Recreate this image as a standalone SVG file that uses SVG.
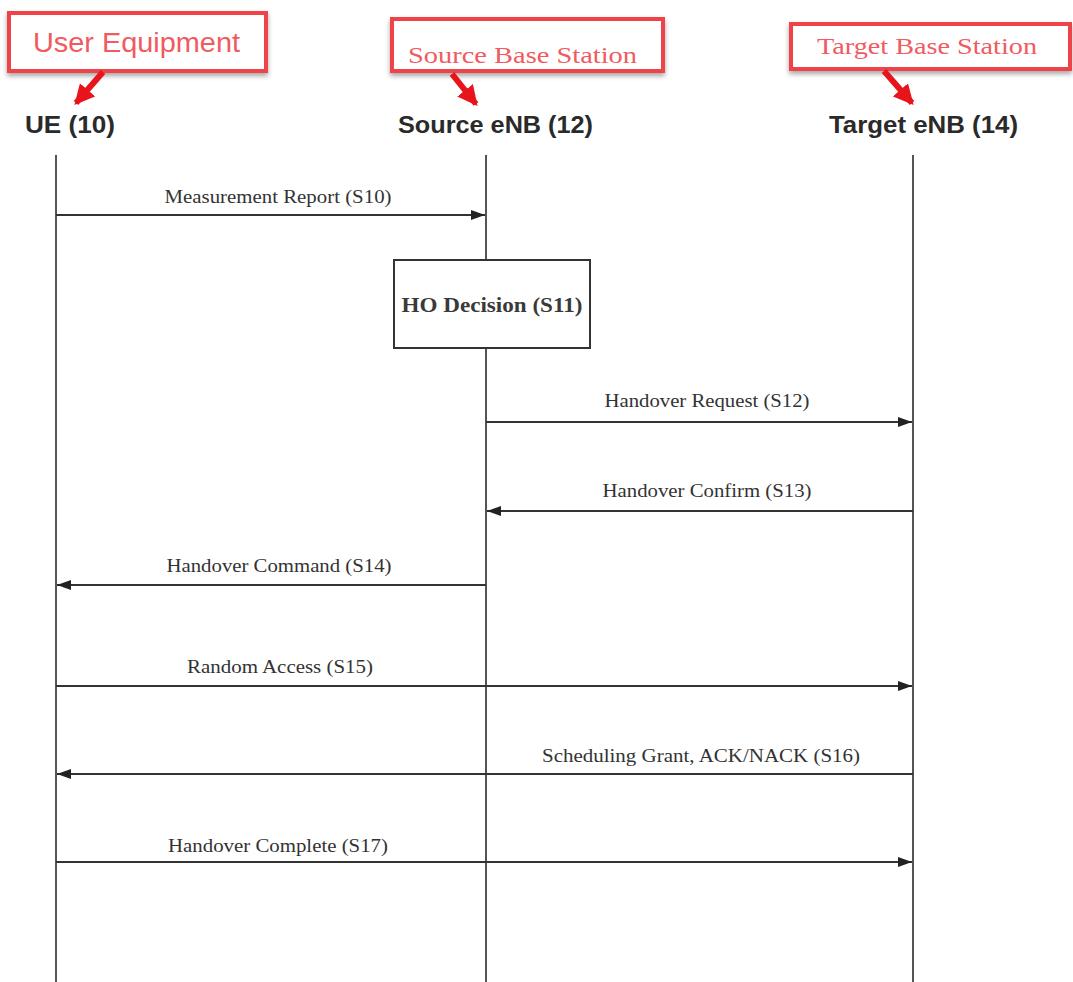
<svg xmlns="http://www.w3.org/2000/svg" width="1073" height="982" viewBox="0 0 1073 982">
<style>
.hbox{fill:#fff;stroke:#f0424a;stroke-width:4;filter:url(#sh)}
.htxt{fill:#f05a60}
.ent{font-family:"Liberation Sans",Arial,sans-serif;font-weight:bold;font-size:23px;fill:#2a2a2a}
.life{stroke:#555;stroke-width:2;fill:none}
.msg{stroke:#333;stroke-width:1.8;fill:none;marker-end:url(#ah)}
.lbl{font-family:"Liberation Serif","Times New Roman",serif;font-size:18px;fill:#333;text-anchor:middle}
.red{stroke:#e8141c;stroke-width:6;fill:none;marker-end:url(#rh)}
</style>
<defs>
<filter id="sh" x="-10%" y="-20%" width="120%" height="150%">
<feDropShadow dx="0" dy="3" stdDeviation="2.5" flood-color="#000" flood-opacity="0.35"/>
</filter>
<marker id="ah" viewBox="0 0 14 10" refX="14" refY="5" markerWidth="14" markerHeight="10" markerUnits="userSpaceOnUse" orient="auto">
<path d="M0,0 L14,5 L0,10 Z" fill="#222"/>
</marker>
<marker id="rh" viewBox="0 0 16 16" refX="14" refY="8" markerWidth="20" markerHeight="20" markerUnits="userSpaceOnUse" orient="auto">
<path d="M0,0 L16,8 L0,16 Z" fill="#e8141c"/>
</marker>
</defs>
<rect width="1073" height="982" fill="#fff"/>

<g id="ue">
<rect class="hbox" x="9" y="13" width="257" height="58"/>
<text class="htxt" x="33" y="52" font-family="Liberation Sans,Arial,sans-serif" font-size="27" textLength="207" lengthAdjust="spacingAndGlyphs">User Equipment</text>
<text class="ent" x="25" y="133" textLength="90" lengthAdjust="spacingAndGlyphs">UE (10)</text>
<line class="life" x1="56" y1="155" x2="56" y2="982"/>
</g>

<g id="source">
<rect class="hbox" x="392" y="19" width="271" height="52"/>
<text class="htxt" x="408" y="63" font-family="Liberation Serif,Times New Roman,serif" font-size="24" textLength="229" lengthAdjust="spacingAndGlyphs">Source Base Station</text>
<text class="ent" x="398" y="133" textLength="195" lengthAdjust="spacingAndGlyphs">Source eNB (12)</text>
<line class="life" x1="486" y1="155" x2="486" y2="260"/>
<line class="life" x1="486" y1="348" x2="486" y2="982"/>
</g>

<g id="target">
<rect class="hbox" x="791" y="24" width="279" height="45"/>
<text class="htxt" x="817" y="54" font-family="Liberation Serif,Times New Roman,serif" font-size="24" textLength="220" lengthAdjust="spacingAndGlyphs">Target Base Station</text>
<text class="ent" x="829" y="133" textLength="189" lengthAdjust="spacingAndGlyphs">Target eNB (14)</text>
<line class="life" x1="913" y1="155" x2="913" y2="982"/>
</g>

<g id="ho-decision">
<rect x="394" y="260" width="196" height="88" fill="#fff" stroke="#333" stroke-width="2"/>
<text x="492" y="312" font-family="Liberation Serif,Times New Roman,serif" font-size="20" font-weight="bold" fill="#3a3a3a" text-anchor="middle" textLength="181" lengthAdjust="spacingAndGlyphs">HO Decision (S11)</text>
</g>

<g id="connectors">
<path class="red" d="M103,72 L76,103"/>
<path class="red" d="M452,74 L476,104"/>
<path class="red" d="M884,71 L912,103"/>

<line class="msg" x1="56" y1="215" x2="485" y2="215"/>
<text class="lbl" x="278" y="203" textLength="227" lengthAdjust="spacingAndGlyphs">Measurement Report (S10)</text>

<line class="msg" x1="486" y1="422" x2="912" y2="422"/>
<text class="lbl" x="707" y="407" textLength="205" lengthAdjust="spacingAndGlyphs">Handover Request (S12)</text>

<line class="msg" x1="913" y1="511" x2="487" y2="511"/>
<text class="lbl" x="707" y="497" textLength="209" lengthAdjust="spacingAndGlyphs">Handover Confirm (S13)</text>

<line class="msg" x1="486" y1="585" x2="57" y2="585"/>
<text class="lbl" x="279" y="572" textLength="225" lengthAdjust="spacingAndGlyphs">Handover Command (S14)</text>

<line class="msg" x1="56" y1="686" x2="912" y2="686"/>
<text class="lbl" x="280" y="673" textLength="186" lengthAdjust="spacingAndGlyphs">Random Access (S15)</text>

<line class="msg" x1="913" y1="774" x2="57" y2="774"/>
<text class="lbl" x="701" y="762" textLength="318" lengthAdjust="spacingAndGlyphs">Scheduling Grant, ACK/NACK (S16)</text>

<line class="msg" x1="56" y1="862" x2="912" y2="862"/>
<text class="lbl" x="278" y="852" textLength="220" lengthAdjust="spacingAndGlyphs">Handover Complete (S17)</text>
</g>
</svg>
